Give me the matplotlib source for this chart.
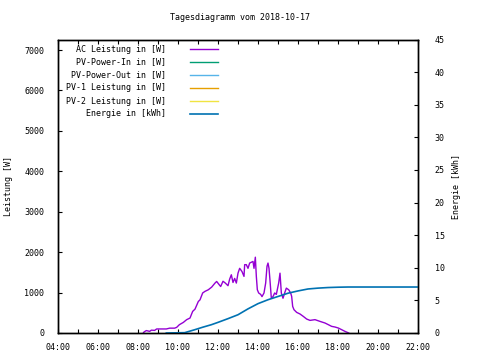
import matplotlib
matplotlib.use("Agg")
import matplotlib.pyplot as plt
from matplotlib.ticker import MultipleLocator, FuncFormatter

plt.rcParams['font.family'] = ['DejaVu Sans Mono']
plt.rcParams['font.size'] = 6

title = "Tagesdiagramm vom 2018-10-17"

# AC Leistung [W] (Zeit, Wert)
ac_time = ["08:16", "08:18", "08:25", "08:35", "08:40", "08:50", "08:56", "09:10", "09:25", "09:35",
           "09:50", "09:56", "10:04", "10:16", "10:26", "10:36", "10:44", "10:51", "11:01", "11:06",
           "11:14", "11:21", "11:31", "11:41", "11:51", "11:56", "12:04", "12:08", "12:15", "12:22",
           "12:30", "12:35", "12:40", "12:45", "12:50", "12:55", "13:00", "13:05", "13:12", "13:18",
           "13:20", "13:25", "13:30", "13:35", "13:40", "13:45", "13:48", "13:52", "13:55", "13:58",
           "14:02", "14:08", "14:12", "14:18", "14:23", "14:27", "14:30", "14:33", "14:36", "14:40",
           "14:45", "14:50", "14:55", "15:02", "15:06", "15:10", "15:15", "15:20", "15:25", "15:32",
           "15:38", "15:41", "15:44", "15:48", "15:56", "16:06", "16:16", "16:26", "16:36", "16:51",
           "17:06", "17:21", "17:31", "17:41", "17:51", "18:01", "18:11", "18:21", "18:28", "18:32"]
ac_power = [0, 25, 60, 40, 70, 65, 100, 100, 100, 120,
            120, 140, 205, 262, 330, 370, 535, 590, 780, 820,
            990, 1030, 1070, 1135, 1235, 1275, 1190, 1150, 1280, 1235,
            1170, 1333, 1440, 1250, 1350, 1235, 1480, 1600, 1520, 1400,
            1690, 1690, 1600, 1730, 1750, 1770, 1600, 1875, 1400, 1070,
            990, 955, 900, 990, 1235, 1650, 1730, 1600, 1300, 860,
            900, 990, 955, 1235, 1480, 990, 860, 990, 1110, 1070,
            990, 905, 658, 576, 510, 470, 410, 345, 312, 330,
            287, 247, 206, 164, 148, 123, 82, 40, 15, 0]

# keine Werte fuer diese Reihen
pv_in_time, pv_in = [], []
pv_out_time, pv_out = [], []
pv1_time, pv1 = [], []
pv2_time, pv2 = [], []

# Energie [kWh]
en_time = ["09:25", "10:20", "10:30", "10:50", "11:15", "11:40", "12:00", "12:30", "13:00", "13:30",
           "14:00", "14:30", "15:00", "15:30", "16:00", "16:30", "17:00", "17:30", "18:00", "18:30",
           "22:00"]
energy = [0, 0.05, 0.2, 0.5, 0.9, 1.27, 1.63, 2.2, 2.8, 3.7,
          4.5, 5.1, 5.6, 6.1, 6.45, 6.75, 6.88, 6.97, 7.02, 7.05,
          7.05]


def hours(ts):
    return [int(t[:2]) + int(t[3:]) / 60 for t in ts]


fig = plt.figure(figsize=(4.8, 3.6), dpi=100)
ax = fig.add_axes([58 / 480, 27 / 360, 360 / 480, 293.5 / 360])
ax2 = ax.twinx()

l1, = ax.plot(hours(ac_time), ac_power, color='#9400D3', lw=1.0, label="AC Leistung in [W]")
l2, = ax.plot(hours(pv_in_time), pv_in, color='#009E73', lw=1.0, label="PV-Power-In in [W]")
l3, = ax.plot(hours(pv_out_time), pv_out, color='#56B4E9', lw=1.0, label="PV-Power-Out in [W]")
l4, = ax.plot(hours(pv1_time), pv1, color='#E69F00', lw=1.0, label="PV-1 Leistung in [W]")
l5, = ax.plot(hours(pv2_time), pv2, color='#F0E442', lw=1.0, label="PV-2 Leistung in [W]")
l6, = ax2.plot(hours(en_time), energy, color='#0072B2', lw=1.2, label="Energie in [kWh]")

ax.set_xlim(4, 22)
ax.set_ylim(0, 7260)
ax2.set_ylim(0, 45)

ax.xaxis.set_major_locator(MultipleLocator(1))
ax.xaxis.set_major_formatter(FuncFormatter(lambda v, p: "%02d:00" % v if int(round(v)) % 2 == 0 else ""))
ax.yaxis.set_major_locator(MultipleLocator(1000))
ax2.yaxis.set_major_locator(MultipleLocator(5))

ax.tick_params(axis='x', direction='in', length=3, width=0.8, top=True, pad=7)
ax.tick_params(axis='y', direction='in', length=3, width=0.8, pad=10)
ax2.tick_params(axis='y', direction='in', length=3, width=0.8, pad=12)
for a in (ax, ax2):
    for s in a.spines.values():
        s.set_linewidth(1.0)

ax.set_ylabel("Leistung [W]", labelpad=8)
ax2.set_ylabel("Energie [kWh]", labelpad=5)
fig.suptitle(title, y=0.964, fontsize=6)

handles = [l1, l2, l3, l4, l5, l6]
labels = [h.get_label().rjust(20) for h in handles]
ax2.legend(handles, labels, loc='upper left', frameon=False, markerfirst=False,
           handlelength=3.4, handletextpad=2.85, labelspacing=0.48,
           borderaxespad=0.2, bbox_to_anchor=(0.008, 1.0))

fig.savefig("out.png", dpi=100)
